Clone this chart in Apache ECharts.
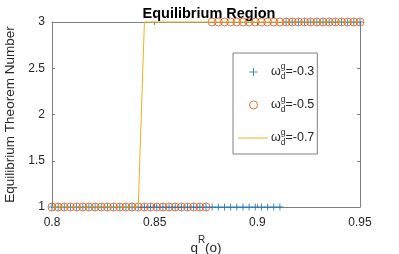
<!DOCTYPE html>
<html>
<head>
<meta charset="utf-8">
<script src="https://cdn.jsdelivr.net/npm/echarts@6/dist/echarts.min.js"></script>
<style>html,body{margin:0;padding:0;background:#fff}#c{width:399px;height:254px}</style>
</head>
<body>
<div id="c"></div>
<script>
var xValues = [0.800,0.803,0.806,0.809,0.812,0.815,0.818,0.821,0.824,0.827,
  0.830,0.833,0.836,0.839,0.842,0.845,0.848,0.851,0.854,0.857,
  0.860,0.863,0.866,0.869,0.872,0.875,0.878,0.881,0.884,0.887,
  0.890,0.893,0.896,0.899,0.902,0.905,0.908,0.911,0.914,0.917,
  0.920,0.923,0.926,0.929,0.932,0.935,0.938,0.941,0.944,0.947,0.950];
var seriesNames = ['-0.3', '-0.5', '-0.7'];
var valuesA = [1,1,1,1,1,1,1,1,1,1, 1,1,1,1,1,1,1,1,1,1, 1,1,1,1,1,1,1,1,1,1, 1,1,1,1,1,1,1,1,3,3, 3,3,3,3,3,3,3,3,3,3,3];
var valuesB = [1,1,1,1,1,1,1,1,1,1, 1,1,1,1,1,1,1,1,1,1, 1,1,1,1,1,1,3,3,3,3, 3,3,3,3,3,3,3,3,3,3, 3,3,3,3,3,3,3,3,3,3,3];
var valuesC = [1,1,1,1,1,1,1,1,1,1, 1,1,1,1,1,3,3,3,3,3, 3,3,3,3,3,3,3,3,3,3, 3,3,3,3,3,3,3,3,3,3, 3,3,3,3,3,3,3,3,3,3,3];
var xTicks = ['0.8', '0.85', '0.9', '0.95'];
var yTicks = ['1', '1.5', '2', '2.5', '3'];

function pairs(xs, ys) { return xs.map(function (x, i) { return [x, ys[i]]; }); }

var FONT = '"Liberation Sans", Arial, Helvetica, sans-serif';
var AX = '#808080', TXT = '#262626';
var C1 = '#0072BD', C2 = '#D95319', C3 = '#EDB120';
var plusPath = 'path://M0,5L10,5M5,0L5,10';
var legPlus = 'path://M0,0M16,16M4.5,8L12.5,8L12.5,9L4.5,9ZM8,4.5L9,4.5L9,12.5L8,12.5Z';
var legCircle = 'path://M0,0M16,16M12.5,8.5A4,4,0,1,1,4.5,8.5A4,4,0,1,1,12.5,8.5Z';
var legLine = 'path://M0,0M30,16M0,8L30,8L30,9L0,9Z';

var chart = echarts.init(document.getElementById('c'), null, {renderer: 'canvas'});
var tickFmtX = function (v) { var k = Math.round((v - 0.8) / 0.05); return xTicks[k] || ''; };
var tickFmtY = function (v) { var k = Math.round((v - 1) / 0.5); return yTicks[k] || ''; };
var baseAxis = {
  axisLine: {show: true, onZero: false, lineStyle: {color: AX, width: 1}},
  axisTick: {show: true, inside: true, length: 3, lineStyle: {color: AX}},
  splitLine: {show: false}
};
chart.setOption({
  animation: false,
  textStyle: {fontFamily: FONT},
  title: {
    text: 'Equilibrium Region', left: 204, top: 1, textAlign: 'center',
    textStyle: {fontFamily: FONT, fontWeight: 'bold', fontSize: 14.5, color: '#000'}
  },
  grid: {left: 52, right: 39, top: 22, bottom: 47, outerBoundsMode: 'none', containLabel: false},
  xAxis: [
    Object.assign({}, baseAxis, {
      type: 'value', min: 0.8, max: 0.95, interval: 0.05, position: 'bottom',
      axisLabel: {formatter: tickFmtX, fontSize: 12, color: TXT, margin: 10, fontFamily: FONT, showMaxLabel: true},
      name: '{n|q}{s|R}{n|(o)}', nameLocation: 'middle', nameGap: 28,
      nameTextStyle: {rich: {n: {fontSize: 13.5, color: TXT, fontFamily: FONT, verticalAlign: 'bottom', lineHeight: 20},
        s: {fontSize: 10, color: TXT, fontFamily: FONT, verticalAlign: 'top', lineHeight: 20}}}
    }),
    Object.assign({}, baseAxis, {
      type: 'value', min: 0.8, max: 0.95, interval: 0.05, position: 'top',
      axisLabel: {show: false}
    })
  ],
  yAxis: [
    Object.assign({}, baseAxis, {
      type: 'value', min: 1, max: 3, interval: 0.5, position: 'left',
      axisLabel: {formatter: tickFmtY, fontSize: 12, color: TXT, margin: 7, fontFamily: FONT},
      name: 'Equilibrium Theorem Number', nameLocation: 'middle', nameGap: 28,
      nameTextStyle: {fontSize: 13.5, color: TXT, fontFamily: FONT}
    }),
    Object.assign({}, baseAxis, {
      type: 'value', min: 1, max: 3, interval: 0.5, position: 'right',
      axisLabel: {show: false}
    })
  ],
  legend: {
    orient: 'vertical', left: 233, top: 53,
    padding: [9, 3, 7, 5], itemGap: 14, itemWidth: 30, itemHeight: 16,
    backgroundColor: '#fff', borderColor: AX, borderWidth: 1, borderRadius: 0,
    data: [
      {name: seriesNames[0], icon: legPlus, itemStyle: {color: C1, borderWidth: 0}},
      {name: seriesNames[1], icon: legCircle, itemStyle: {color: 'rgba(0,0,0,0)', borderColor: C2, borderWidth: 1}},
      {name: seriesNames[2], icon: legLine, itemStyle: {color: C3, borderWidth: 0}}
    ],
    formatter: function (n) { return '{w|ω}{g|g}{d|d}{t|=' + n + '}'; },
    textStyle: {
      fontFamily: FONT, color: TXT, padding: [0, 0, 0, -2],
      rich: {
        w: {fontSize: 12.5, color: TXT, fontFamily: FONT, lineHeight: 19, verticalAlign: 'middle'},
        g: {fontSize: 8.5, color: TXT, fontFamily: FONT, width: 0, lineHeight: 19, verticalAlign: 'top'},
        d: {fontSize: 8.5, color: TXT, fontFamily: FONT, lineHeight: 19, verticalAlign: 'bottom'},
        t: {fontSize: 12.5, color: TXT, fontFamily: FONT, lineHeight: 19, verticalAlign: 'middle'}
      }
    }
  },
  series: [
    {
      name: seriesNames[0], type: 'scatter', data: pairs(xValues, valuesA),
      symbol: plusPath, symbolSize: 7, clip: false,
      itemStyle: {color: 'rgba(0,0,0,0)', borderColor: C1, borderWidth: 1}
    },
    {
      name: seriesNames[1], type: 'scatter', data: pairs(xValues, valuesB),
      symbol: 'circle', symbolSize: 8, clip: false,
      itemStyle: {color: 'rgba(0,0,0,0)', borderColor: C2, borderWidth: 1}
    },
    {
      name: seriesNames[2], type: 'line', data: pairs(xValues, valuesC),
      showSymbol: false, symbol: 'none', clip: false,
      lineStyle: {color: C3, width: 1}, itemStyle: {color: C3}
    }
  ]
});
</script>
</body>
</html>
